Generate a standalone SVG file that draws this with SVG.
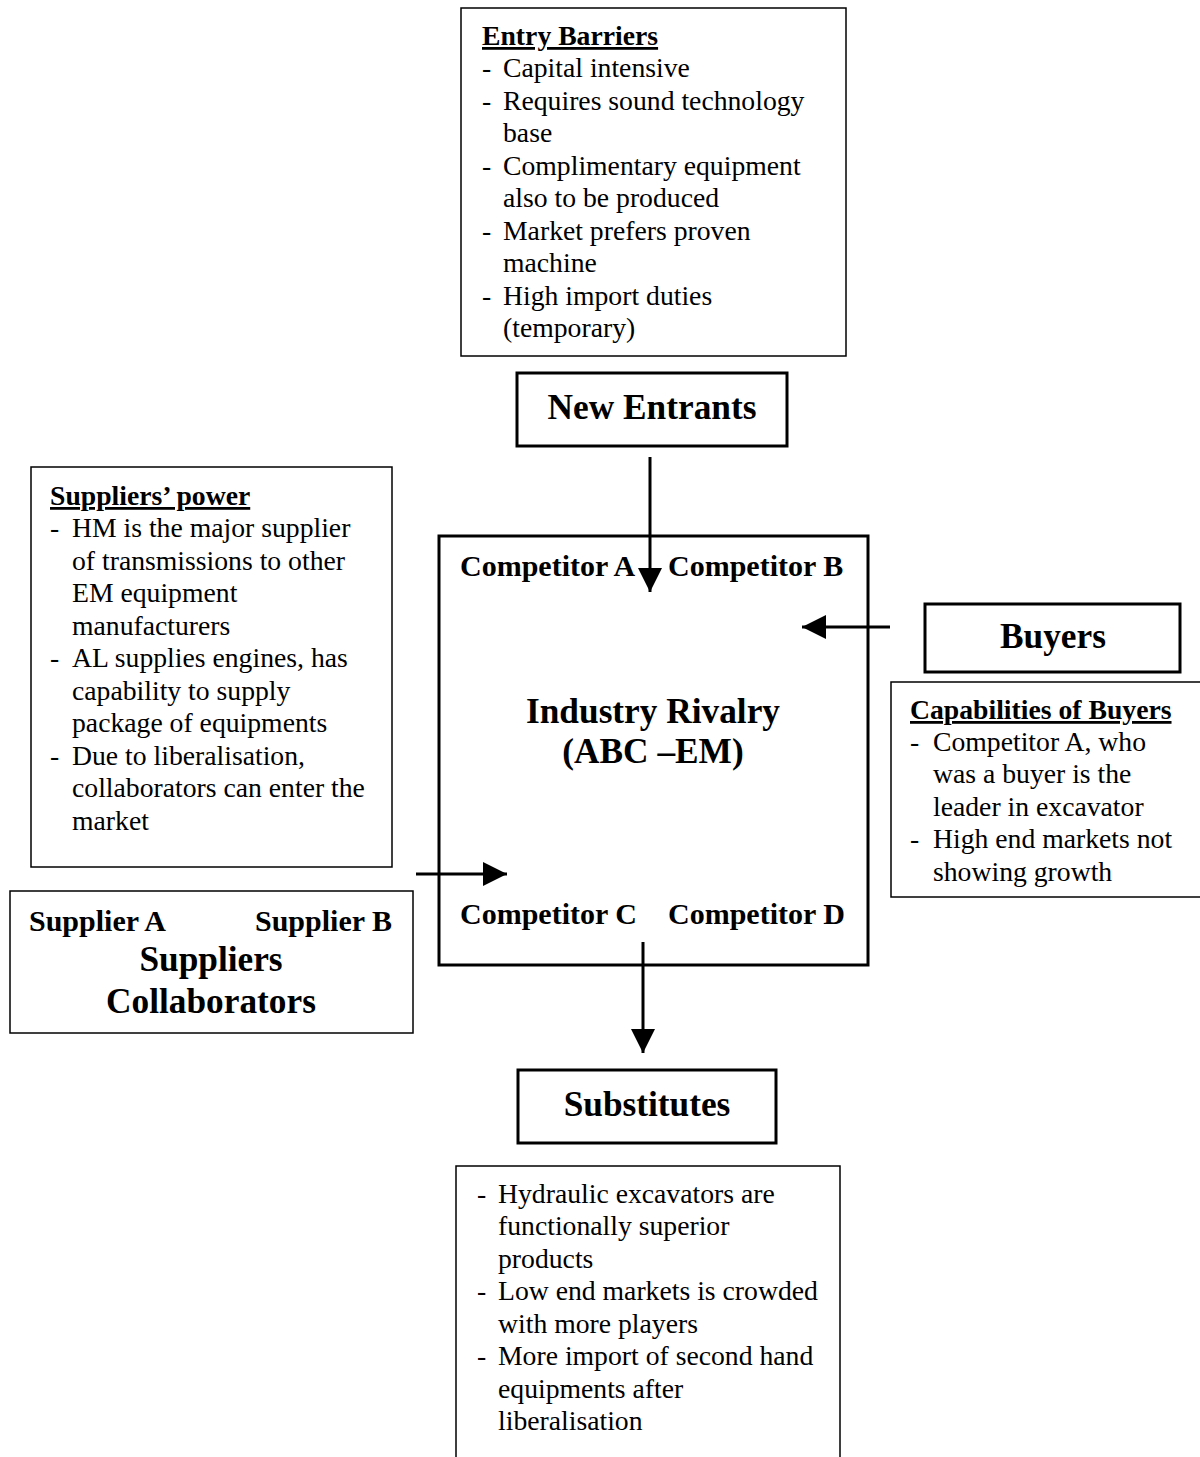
<svg xmlns="http://www.w3.org/2000/svg" width="1200" height="1457" viewBox="0 0 1200 1457">
<defs>
<style>
.thin{fill:#fff;stroke:#000;stroke-width:1.5}
.thick{fill:#fff;stroke:#000;stroke-width:3}
.t{font-family:"Liberation Serif","Times New Roman",serif;font-size:27.7px;fill:#000}
.h{font-family:"Liberation Serif","Times New Roman",serif;font-size:27.7px;font-weight:bold;text-decoration:underline;fill:#000}
.c{font-family:"Liberation Serif","Times New Roman",serif;font-size:30px;font-weight:bold;fill:#000}
.b{font-family:"Liberation Serif","Times New Roman",serif;font-size:35.3px;font-weight:bold;fill:#000;text-anchor:middle}
.ln{stroke:#000;stroke-width:3;fill:none}
</style>
<marker id="ah" viewBox="0 0 10 10" refX="10" refY="5" markerWidth="8" markerHeight="8" markerUnits="strokeWidth" orient="auto">
<path d="M0,0 L10,5 L0,10 Z" fill="#000"/>
</marker>
</defs>
<rect width="1200" height="1457" fill="#fff"/>

<g id="entry-barriers">
<rect class="thin" x="461" y="8" width="385" height="348"/>
<text class="h" x="482" y="45">Entry Barriers</text>
<text class="t" x="482" y="77">-</text><text class="t" x="503" y="77">Capital intensive</text>
<text class="t" x="482" y="110">-</text><text class="t" x="503" y="110">Requires sound technology</text>
<text class="t" x="503" y="142">base</text>
<text class="t" x="482" y="175">-</text><text class="t" x="503" y="175">Complimentary equipment</text>
<text class="t" x="503" y="207">also to be produced</text>
<text class="t" x="482" y="240">-</text><text class="t" x="503" y="240">Market prefers proven</text>
<text class="t" x="503" y="272">machine</text>
<text class="t" x="482" y="305">-</text><text class="t" x="503" y="305">High import duties</text>
<text class="t" x="503" y="337">(temporary)</text>
</g>

<g id="new-entrants">
<rect class="thick" x="517" y="373" width="270" height="73"/>
<text class="b" x="652" y="419">New Entrants</text>
</g>

<g id="suppliers-power">
<rect class="thin" x="31" y="467" width="361" height="400"/>
<text class="h" x="50" y="505">Suppliers’ power</text>
<text class="t" x="50" y="537">-</text><text class="t" x="72" y="537">HM is the major supplier</text>
<text class="t" x="72" y="570">of transmissions to other</text>
<text class="t" x="72" y="602">EM equipment</text>
<text class="t" x="72" y="635">manufacturers</text>
<text class="t" x="50" y="667">-</text><text class="t" x="72" y="667">AL supplies engines, has</text>
<text class="t" x="72" y="700">capability to supply</text>
<text class="t" x="72" y="732">package of equipments</text>
<text class="t" x="50" y="765">-</text><text class="t" x="72" y="765">Due to liberalisation,</text>
<text class="t" x="72" y="797">collaborators can enter the</text>
<text class="t" x="72" y="830">market</text>
</g>

<g id="industry-rivalry">
<rect class="thick" x="439" y="536" width="429" height="429"/>
<text class="c" x="460" y="576">Competitor A</text>
<text class="c" x="668" y="576">Competitor B</text>
<text class="b" x="653" y="723">Industry Rivalry</text>
<text class="b" x="653" y="763">(ABC –EM)</text>
<text class="c" x="460" y="924">Competitor C</text>
<text class="c" x="668" y="924">Competitor D</text>
</g>

<g id="buyers">
<rect class="thick" x="925" y="604" width="255" height="68"/>
<text class="b" x="1053" y="648">Buyers</text>
</g>

<g id="capabilities-of-buyers">
<rect class="thin" x="891" y="682" width="320" height="215"/>
<text class="h" x="910" y="719">Capabilities of Buyers</text>
<text class="t" x="910" y="751">-</text><text class="t" x="933" y="751">Competitor A, who</text>
<text class="t" x="933" y="783">was a buyer is the</text>
<text class="t" x="933" y="816">leader in excavator</text>
<text class="t" x="910" y="848">-</text><text class="t" x="933" y="848">High end markets not</text>
<text class="t" x="933" y="881">showing growth</text>
</g>

<g id="suppliers">
<rect class="thin" x="10" y="891" width="403" height="142"/>
<text class="c" x="29" y="931">Supplier A</text>
<text class="c" x="255" y="931">Supplier B</text>
<text class="b" x="211" y="971">Suppliers</text>
<text class="b" x="211" y="1013">Collaborators</text>
</g>

<g id="substitutes">
<rect class="thick" x="518" y="1070" width="258" height="73"/>
<text class="b" x="647" y="1116">Substitutes</text>
</g>

<g id="substitutes-notes">
<path class="thin" d="M456,1460 V1166 H840 V1460"/>
<text class="t" x="477" y="1203">-</text><text class="t" x="498" y="1203">Hydraulic excavators are</text>
<text class="t" x="498" y="1235">functionally superior</text>
<text class="t" x="498" y="1268">products</text>
<text class="t" x="477" y="1300">-</text><text class="t" x="498" y="1300">Low end markets is crowded</text>
<text class="t" x="498" y="1333">with more players</text>
<text class="t" x="477" y="1365">-</text><text class="t" x="498" y="1365">More import of second hand</text>
<text class="t" x="498" y="1398">equipments after</text>
<text class="t" x="498" y="1430">liberalisation</text>
</g>

<g id="connectors">
<line class="ln" x1="650" y1="457" x2="650" y2="592" marker-end="url(#ah)"/>
<line class="ln" x1="890" y1="627" x2="802" y2="627" marker-end="url(#ah)"/>
<line class="ln" x1="416" y1="874" x2="507" y2="874" marker-end="url(#ah)"/>
<line class="ln" x1="643" y1="942" x2="643" y2="1053" marker-end="url(#ah)"/>
</g>
</svg>
